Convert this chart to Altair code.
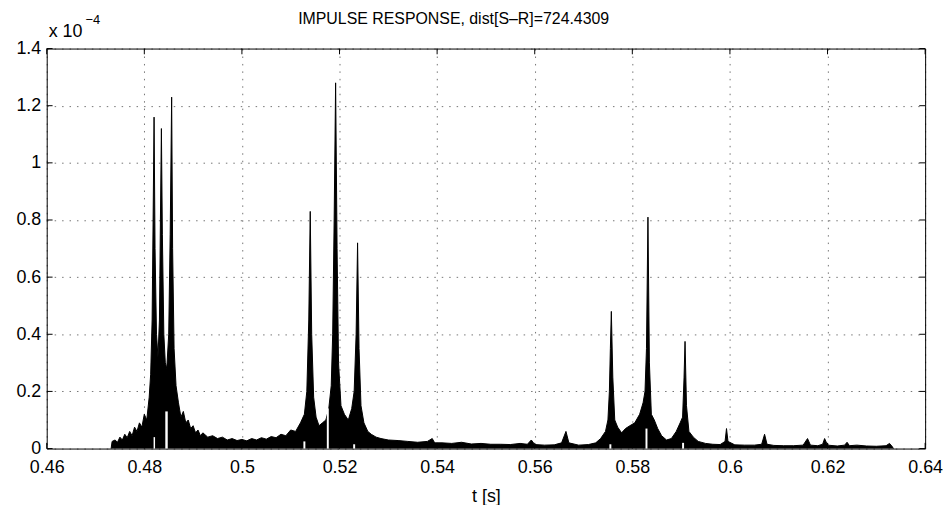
import altair as alt
import pandas as pd

# ---- data (amplitude in units of 1e-4) ----
t = [0.4732, 0.4734, 0.4740, 0.4745, 0.4750, 0.4755, 0.4760, 0.4765, 0.4770, 0.4775,
     0.4780, 0.4785, 0.4790, 0.4795, 0.4800, 0.4805, 0.4810, 0.4813, 0.4816, 0.4818,
     0.4820, 0.4822, 0.4825, 0.4828, 0.4831, 0.4833, 0.4835, 0.4837, 0.4840, 0.4843,
     0.4846, 0.4850, 0.4853, 0.4856, 0.4858, 0.4861, 0.4865, 0.4870, 0.4875, 0.4880,
     0.4885, 0.4890, 0.4895, 0.4900, 0.4905, 0.4910, 0.4915, 0.4920, 0.4930, 0.4940,
     0.4950, 0.4960, 0.4970, 0.4980, 0.4990, 0.5000, 0.5010, 0.5020, 0.5030, 0.5040,
     0.5050, 0.5060, 0.5070, 0.5080, 0.5090, 0.5100, 0.5110, 0.5120, 0.5128, 0.5133,
     0.5137, 0.5140, 0.5143, 0.5147, 0.5152, 0.5158, 0.5165, 0.5172, 0.5178, 0.5183,
     0.5186, 0.5189, 0.5192, 0.5195, 0.5198, 0.5203, 0.5210, 0.5218, 0.5225, 0.5230,
     0.5234, 0.5237, 0.5240, 0.5244, 0.5250, 0.5258, 0.5265, 0.5275, 0.5285, 0.5300,
     0.5320, 0.5340, 0.5360, 0.5380, 0.5390, 0.5395, 0.5410, 0.5430, 0.5450, 0.5470,
     0.5490, 0.5510, 0.5530, 0.5550, 0.5570, 0.5585, 0.5593, 0.5600, 0.5620, 0.5640,
     0.5655, 0.5664, 0.5670, 0.5690, 0.5710, 0.5725, 0.5735, 0.5745, 0.5750, 0.5753,
     0.5755, 0.5757, 0.5760, 0.5764, 0.5770, 0.5778, 0.5786, 0.5795, 0.5805, 0.5815,
     0.5822, 0.5826, 0.5829, 0.5832, 0.5835, 0.5839, 0.5845, 0.5852, 0.5860, 0.5870,
     0.5880, 0.5890, 0.5898, 0.5903, 0.5906, 0.5908, 0.5911, 0.5916, 0.5925, 0.5935,
     0.5950, 0.5965, 0.5980, 0.5990, 0.5993, 0.5996, 0.6010, 0.6030, 0.6050, 0.6065,
     0.6071, 0.6076, 0.6090, 0.6110, 0.6130, 0.6150, 0.6159, 0.6165, 0.6180, 0.6190,
     0.6194, 0.6200, 0.6220, 0.6235, 0.6240, 0.6245, 0.6260, 0.6280, 0.6300, 0.6320,
     0.6327, 0.6333, 0.6335]
amp = [0.000, 0.025, 0.030, 0.022, 0.040, 0.030, 0.050, 0.038, 0.060, 0.045,
       0.075, 0.060, 0.090, 0.075, 0.120, 0.100, 0.180, 0.260, 0.450, 0.800,
       1.160, 0.700, 0.400, 0.320, 0.450, 0.800, 1.120, 0.750, 0.400, 0.300,
       0.280, 0.400, 0.750, 1.230, 0.700, 0.350, 0.220, 0.160, 0.110, 0.130,
       0.090, 0.100, 0.070, 0.080, 0.055, 0.065, 0.045, 0.055, 0.040, 0.045,
       0.035, 0.040, 0.030, 0.035, 0.028, 0.032, 0.027, 0.035, 0.030, 0.038,
       0.033, 0.042, 0.038, 0.050, 0.045, 0.065, 0.060, 0.090, 0.120, 0.200,
       0.450, 0.830, 0.400, 0.180, 0.110, 0.080, 0.090, 0.100, 0.140, 0.220,
       0.400, 0.800, 1.280, 0.700, 0.300, 0.150, 0.120, 0.100, 0.140, 0.200,
       0.400, 0.720, 0.350, 0.150, 0.090, 0.060, 0.050, 0.040, 0.035, 0.030,
       0.028, 0.025, 0.022, 0.025, 0.035, 0.020, 0.020, 0.018, 0.022, 0.016,
       0.018, 0.015, 0.015, 0.014, 0.018, 0.015, 0.030, 0.014, 0.012, 0.013,
       0.020, 0.060, 0.020, 0.012, 0.014, 0.020, 0.035, 0.060, 0.100, 0.200,
       0.350, 0.480, 0.250, 0.100, 0.075, 0.055, 0.070, 0.080, 0.090, 0.120,
       0.160, 0.200, 0.350, 0.810, 0.300, 0.120, 0.100, 0.070, 0.045, 0.030,
       0.035, 0.060, 0.090, 0.110, 0.250, 0.375, 0.150, 0.060, 0.040, 0.025,
       0.018, 0.015, 0.014, 0.025, 0.070, 0.025, 0.013, 0.012, 0.012, 0.015,
       0.050, 0.015, 0.011, 0.010, 0.010, 0.012, 0.035, 0.012, 0.010, 0.015,
       0.035, 0.012, 0.009, 0.012, 0.022, 0.010, 0.012, 0.009, 0.008, 0.010,
       0.018, 0.006, 0.000]

# white gaps inside the dense trace (start, end, height)
gap_start = [0.4819, 0.4843, 0.5126, 0.5174, 0.5228, 0.5753, 0.5827, 0.5902]
gap_end = [0.4822, 0.4848, 0.5130, 0.5178, 0.5232, 0.5757, 0.5831, 0.5906]
gap_height = [0.040, 0.130, 0.025, 0.140, 0.015, 0.015, 0.070, 0.020]

x_ticks = [0.46, 0.48, 0.50, 0.52, 0.54, 0.56, 0.58, 0.60, 0.62, 0.64]
y_ticks = [0.0, 0.2, 0.4, 0.6, 0.8, 1.0, 1.2, 1.4]

title_text = "IMPULSE RESPONSE, dist[S\u2013R]=724.4309"
x_title = "t [s]"
exp_base = "x 10"
exp_power = "\u22124"

FONT = "Liberation Sans"

sig = pd.DataFrame({"t": t, "amp": amp})
gaps = pd.DataFrame({"s": gap_start, "e": gap_end, "h": gap_height})
xt = pd.DataFrame({"v": x_ticks})
yt = pd.DataFrame({"v": y_ticks})

xscale = alt.Scale(domain=[0.46, 0.64], nice=False, zero=False)
yscale = alt.Scale(domain=[0, 1.4], nice=False)

xaxis = alt.Axis(values=x_ticks, format="~g", title=x_title, grid=True,
                 ticks=False, domain=False, labelPadding=10, titlePadding=11,
                 labelFlush=False)
yaxis = alt.Axis(values=y_ticks, format="~g", title="", grid=True,
                 ticks=False, domain=False, labelPadding=6)

area = alt.Chart(sig).mark_area(color="black", interpolate="linear").encode(
    x=alt.X("t:Q", scale=xscale, axis=xaxis),
    y=alt.Y("amp:Q", scale=yscale, axis=yaxis),
)
line = alt.Chart(sig).mark_line(color="black", strokeWidth=1).encode(
    x="t:Q", y="amp:Q"
)
gap = alt.Chart(gaps).mark_rect(color="white").encode(
    x="s:Q", x2="e", y="h:Q", y2=alt.datum(0)
)

tick_bottom = alt.Chart(xt).mark_rule(color="black").encode(
    x="v:Q", y=alt.datum(0), y2=alt.datum(0.02))
tick_top = alt.Chart(xt).mark_rule(color="black").encode(
    x="v:Q", y=alt.datum(1.4), y2=alt.datum(1.38))
tick_left = alt.Chart(yt).mark_rule(color="black").encode(
    y="v:Q", x=alt.datum(0.46), x2=alt.datum(0.4612))
tick_right = alt.Chart(yt).mark_rule(color="black").encode(
    y="v:Q", x=alt.datum(0.64), x2=alt.datum(0.6388))

exp1 = alt.Chart(pd.DataFrame({"s": [exp_base]})).mark_text(
    align="left", baseline="alphabetic", font=FONT, fontSize=18, color="black"
).encode(text="s:N", x=alt.value(2), y=alt.value(-12))
exp2 = alt.Chart(pd.DataFrame({"s": [exp_power]})).mark_text(
    align="left", baseline="alphabetic", font=FONT, fontSize=13, color="black"
).encode(text="s:N", x=alt.value(39), y=alt.value(-25))
ttl = alt.Chart(pd.DataFrame({"s": [title_text]})).mark_text(
    align="center", baseline="alphabetic", font=FONT, fontSize=16, color="black"
).encode(text="s:N", x=alt.value(410), y=alt.value(-25))

chart = alt.layer(
    area, line, gap, tick_bottom, tick_top, tick_left, tick_right, exp1, exp2, ttl
).properties(
    width=885, height=403,
    autosize=alt.AutoSizeParams(type="none"),
    padding={"left": 39, "top": 39, "right": 18, "bottom": 55},
    background="white",
).configure_view(
    stroke="black", strokeWidth=1
).configure_axis(
    labelFont=FONT, labelFontSize=18, labelColor="black",
    titleFont=FONT, titleFontSize=18, titleColor="black", titleFontWeight="normal",
    gridColor="#000000", gridDash=[1.5, 6], gridOpacity=0.55, gridWidth=1,
)

chart.save("out.html", embed_options={"renderer": "svg", "actions": False})
